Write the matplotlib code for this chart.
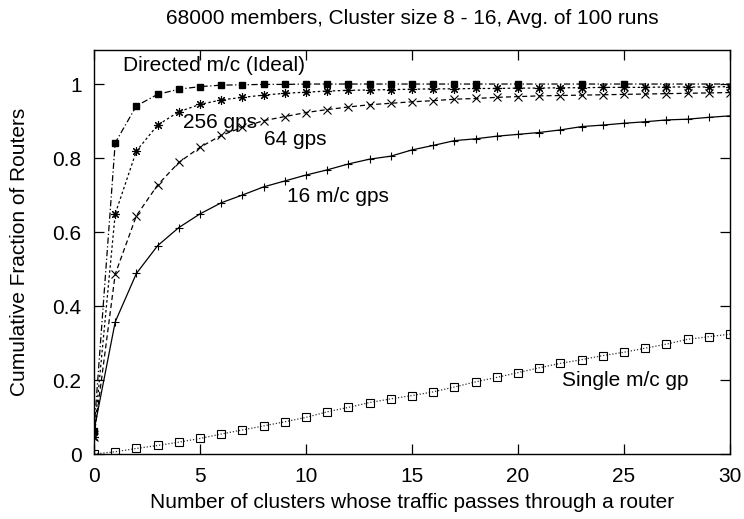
import matplotlib
matplotlib.use("Agg")
import matplotlib.pyplot as plt

plt.rcParams['font.family'] = ['Liberation Sans', 'DejaVu Sans']

title = "68000 members, Cluster size 8 - 16, Avg. of 100 runs"
xlabel = "Number of clusters whose traffic passes through a router"
ylabel = "Cumulative Fraction of Routers"

x_all = list(range(0, 31))

directed_x = list(range(0, 19)) + [20, 23, 25, 32]
directed_y = [0.063, 0.841, 0.941, 0.972, 0.986, 0.993, 0.997, 0.998, 0.999, 0.999,
              1.0, 1.0, 1.0, 1.0, 1.0, 1.0, 1.0, 1.0, 1.0, 1.0, 1.0, 1.0, 1.0]

gps256_y = [0.046, 0.649, 0.819, 0.889, 0.925, 0.945, 0.957, 0.964, 0.970, 0.975,
            0.978, 0.981, 0.983, 0.984, 0.985, 0.986, 0.987, 0.987, 0.988, 0.988,
            0.989, 0.989, 0.990, 0.990, 0.991, 0.991, 0.991, 0.992, 0.992, 0.992, 0.993]

gps64_y = [0.046, 0.486, 0.644, 0.727, 0.788, 0.829, 0.861, 0.883, 0.901, 0.912,
           0.923, 0.931, 0.938, 0.944, 0.948, 0.952, 0.955, 0.959, 0.961, 0.964,
           0.966, 0.968, 0.969, 0.970, 0.971, 0.972, 0.973, 0.974, 0.975, 0.976, 0.977]

gps16_y = [0.063, 0.357, 0.488, 0.563, 0.612, 0.649, 0.679, 0.700, 0.722, 0.738,
           0.754, 0.768, 0.784, 0.797, 0.805, 0.822, 0.834, 0.847, 0.852, 0.859,
           0.864, 0.869, 0.876, 0.885, 0.889, 0.894, 0.898, 0.903, 0.905, 0.910, 0.914]

single_y = [0.0, 0.006, 0.015, 0.023, 0.032, 0.042, 0.054, 0.065, 0.076, 0.087,
            0.099, 0.114, 0.126, 0.139, 0.149, 0.158, 0.168, 0.181, 0.195, 0.207,
            0.220, 0.233, 0.245, 0.255, 0.266, 0.275, 0.286, 0.297, 0.310, 0.317, 0.324]

xticks = [0, 5, 10, 15, 20, 25, 30]
yticks = [0, 0.2, 0.4, 0.6, 0.8, 1.0]
ytick_labels = ["0", "0.2", "0.4", "0.6", "0.8", "1"]

fig = plt.figure(figsize=(7.44, 5.19), dpi=100)
ax = fig.add_axes([94 / 744, 1 - 454 / 519, (730 - 94) / 744, (454 - 50) / 519])

lw = 0.9
ax.plot(directed_x, directed_y, color='black', lw=lw, linestyle=(0, (5, 2, 1, 2)),
        marker='s', markersize=5, markerfacecolor='black', markeredgecolor='black')
ax.plot(x_all, gps256_y, color='black', lw=lw, linestyle=(0, (2, 2)),
        marker=(8, 2, 0), markersize=6.5, markeredgewidth=0.8)
ax.plot(x_all, gps64_y, color='black', lw=lw, linestyle=(0, (4, 2.5)),
        marker='x', markersize=5.5, markeredgewidth=0.8)
ax.plot(x_all, gps16_y, color='black', lw=lw, linestyle='-',
        marker='+', markersize=6, markeredgewidth=0.8)
ax.plot(x_all, single_y, color='#333333', lw=lw, linestyle=(0, (1, 1.5)),
        marker='s', markersize=5.5, markerfacecolor='none', markeredgecolor='black',
        markeredgewidth=0.8)

ax.set_xlim(0, 30)
ax.set_ylim(0, 1.092)
ax.set_xticks(xticks)
ax.set_yticks(yticks)
ax.set_yticklabels(ytick_labels)
fs = 15
ax.tick_params(direction='in', length=7, width=0.9, top=True, right=True,
               labelsize=fs, pad=9)
for s in ax.spines.values():
    s.set_linewidth(1.0)

ax.text(1.37, 1.051, "Directed m/c (Ideal)", fontsize=fs, ha='left', va='center')
ax.text(4.2, 0.897, "256 gps", fontsize=fs, ha='left', va='center')
ax.text(8.02, 0.849, "64 gps", fontsize=fs, ha='left', va='center')
ax.text(9.1, 0.697, "16 m/c gps", fontsize=fs, ha='left', va='center')
ax.text(22.08, 0.2, "Single m/c gp", fontsize=fs, ha='left', va='center')

fig.text(412 / 744, 1 - 18 / 519, title, fontsize=fs, ha='center', va='center')
fig.text(412 / 744, 1 - 502 / 519, xlabel, fontsize=fs, ha='center', va='center')
fig.text(20 / 744, 1 - 252 / 519, ylabel, fontsize=fs, ha='center', va='center',
         rotation=90)

fig.savefig("out.png", dpi=100)
